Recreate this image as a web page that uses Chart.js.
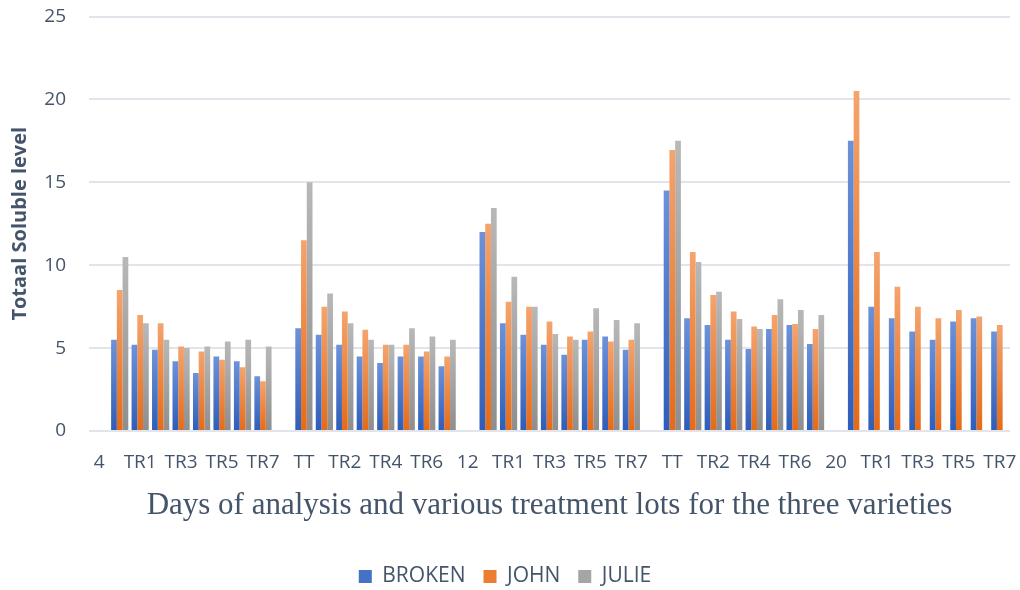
<!DOCTYPE html>
<html>
<head>
<meta charset="utf-8">
<script src="https://cdn.jsdelivr.net/npm/chart.js@4.4.1/dist/chart.umd.min.js"></script>
<style>
html,body{margin:0;padding:0;background:#fff;}
#wrap{width:1020px;height:590px;position:relative;}
</style>
</head>
<body>
<div id="wrap"><canvas id="c"></canvas></div>
<script>
const categories = ['4','TT','TR1','TR2','TR3','TR4','TR5','TR6','TR7',
                    '8','TT','TR1','TR2','TR3','TR4','TR5','TR6','TR7',
                    '12','TT','TR1','TR2','TR3','TR4','TR5','TR6','TR7',
                    '16','TT','TR1','TR2','TR3','TR4','TR5','TR6','TR7',
                    '20','TT','TR1','TR2','TR3','TR4','TR5','TR6','TR7'];
const broken = [null,5.5,5.2,4.9,4.2,3.5,4.5,4.2,3.3,
                null,6.2,5.8,5.2,4.5,4.1,4.5,4.5,3.9,
                null,12.0,6.5,5.8,5.2,4.6,5.5,5.7,4.9,
                null,14.5,6.8,6.4,5.5,4.95,6.15,6.4,5.25,
                null,17.5,7.5,6.8,6.0,5.5,6.6,6.8,6.0];
const john   = [null,8.5,7.0,6.5,5.1,4.8,4.3,3.85,3.0,
                null,11.5,7.5,7.2,6.1,5.2,5.2,4.8,4.5,
                null,12.5,7.8,7.5,6.6,5.7,6.0,5.4,5.5,
                null,16.95,10.8,8.2,7.2,6.3,7.0,6.45,6.15,
                null,20.5,10.8,8.7,7.5,6.8,7.3,6.9,6.4];
const julie  = [null,10.5,6.5,5.5,5.0,5.1,5.4,5.5,5.1,
                null,15.0,8.3,6.5,5.5,5.2,6.2,5.7,5.5,
                null,13.45,9.3,7.5,5.85,5.5,7.4,6.7,6.5,
                null,17.5,10.2,8.4,6.75,6.15,7.95,7.3,7.0,
                null,null,null,null,null,null,null,null,null];
const seriesNames = ['BROKEN','JOHN','JULIE'];
const yTicks = [0,5,10,15,20,25];

const TEXT = '#44546A';

function grad(top, mid, bottom){
  return (ctx) => {
    const c = ctx.chart;
    if (!c.chartArea || ctx.type !== 'data' || ctx.raw == null) return mid;
    const ys = c.scales.y;
    const y0 = ys.getPixelForValue(ctx.raw), y1 = ys.getPixelForValue(0);
    if (!isFinite(y0) || !isFinite(y1) || y0 === y1) return mid;
    const g = c.ctx.createLinearGradient(0, y0, 0, y1);
    g.addColorStop(0, top); g.addColorStop(1, bottom);
    return g;
  };
}

new Chart(document.getElementById('c'), {
  type: 'bar',
  data: {
    labels: categories,
    datasets: [
      {label: seriesNames[0], data: broken, backgroundColor: grad('#6E92D8','#4472C4','#2E5DB8')},
      {label: seriesNames[1], data: john, backgroundColor: grad('#F4A46E','#ED7D31','#E66A16')},
      {label: seriesNames[2], data: julie, backgroundColor: grad('#B8B8B8','#A5A5A5','#8E8E8E')}
    ]
  },
  options: {
    responsive: true,
    maintainAspectRatio: false,
    animation: false,
    layout: {padding: {left: 0, right: 10, top: 16.5, bottom: -7}},
    datasets: {bar: {categoryPercentage: 0.84, barPercentage: 1.0, borderWidth: 0}},
    plugins: {
      tooltip: {enabled: false},
      legend: {
        position: 'bottom',
        labels: {
          color: TEXT,
          font: {family: 'Open Sans', size: 21},
          boxWidth: 13, boxHeight: 13,
          padding: 18
        }
      }
    },
    scales: {
      x: {
        afterFit: (s) => { s.height = 117; s.paddingLeft = 0; s.paddingRight = 0; },
        grid: {display: false, drawTicks: false},
        border: {display: false},
        ticks: {
          autoSkip: false, maxRotation: 0, minRotation: 0,
          color: TEXT, font: {family: 'Open Sans', size: 19},
          padding: 20,
          callback: function(v, i){ return i % 2 === 0 ? categories[i] : ''; }
        },
        title: {
          display: true,
          text: 'Days of analysis and various treatment lots for the three varieties',
          color: TEXT,
          font: {family: 'Liberation Serif', size: 31},
          padding: {top: 0, bottom: 24}
        }
      },
      y: {
        min: 0, max: 25,
        afterBuildTicks: (s) => { s.ticks = yTicks.map(v => ({value: v})); },
        afterFit: (s) => { s.width = 89; s.paddingTop = 0; s.paddingBottom = 0; },
        grid: {color: '#E1E4EA', lineWidth: 2, drawTicks: false},
        border: {display: false},
        ticks: {color: TEXT, font: {family: 'Open Sans', size: 19}, padding: 23},
        title: {
          display: true,
          text: 'Totaal Soluble level',
          color: TEXT,
          font: {family: 'Open Sans', size: 20, weight: 'bold'},
          padding: {top: 8, bottom: 0}
        }
      }
    }
  }
});
</script>
</body>
</html>
